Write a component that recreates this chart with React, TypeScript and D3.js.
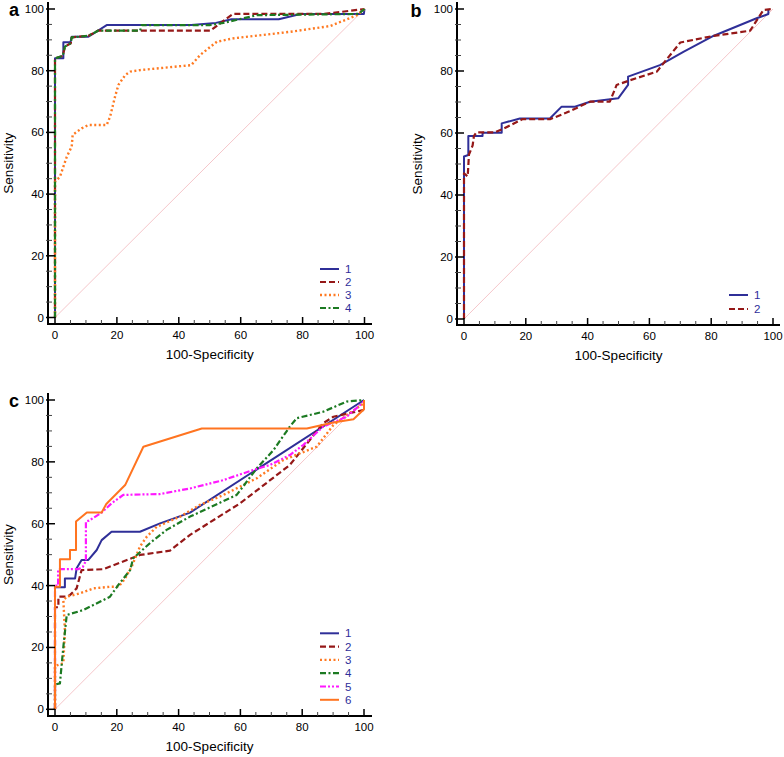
import React from 'react';
import * as d3 from 'd3';

type Pt = [number, number];

const majorTicks = [0, 20, 40, 60, 80, 100];
const minorTicks = [5, 10, 15, 25, 30, 35, 45, 50, 55, 65, 70, 75, 85, 90, 95];

// Panel a
const aLabels = ['1', '2', '3', '4'];
const a1: Pt[] = [[0,0],[0,84],[2.7,84],[2.7,89.2],[5,89.2],[5.4,91],[10.8,91],[16.7,94.8],[44,94.8],[52,95.5],[57,96.7],[72.3,96.7],[79.3,98.4],[99.8,98.4],[100,100]];
const a2: Pt[] = [[0,0],[0,84],[2.5,84.8],[3.2,87.8],[5.1,88.9],[5.4,90.8],[10.8,91.3],[14,93],[50.2,93],[57.5,98.4],[87,98.4],[100,100]];
const a3: Pt[] = [[0,0],[0,44],[1.6,45.6],[3.8,52.1],[5.4,55.4],[5.7,59.2],[8.6,61.3],[10.8,62.4],[16.7,62.4],[17.8,65.1],[19.4,71.6],[20.5,75.4],[22.7,78.6],[24.3,79.7],[27.5,80.2],[44,81.8],[46.9,85.1],[52.3,89.4],[57.7,90.5],[76,92.6],[89,94.5],[97.6,98],[100,100]];
const a4: Pt[] = [[0,0],[0,84],[2.5,84.8],[3.2,87.8],[5.1,88.9],[5.4,90.8],[10.8,91.3],[14,93],[27.5,93],[28,94.8],[50,94.8],[54.4,95.5],[65.3,98],[98,98.4],[100,100]];

// Panel b
const bLabels = ['1', '2'];
const b1: Pt[] = [[0,0],[0,52.4],[1.4,52.9],[1.4,59],[6,59],[6,60.1],[12.2,60.1],[12.2,63.1],[18.1,64.7],[27.8,64.7],[31.6,68.5],[35.9,68.5],[40.8,70.1],[49.9,71.2],[53.1,75.5],[53.1,78.2],[63.4,81.9],[71,86.2],[80.7,91.3],[94.7,97],[98.5,98.4],[98.5,100]];
const b2: Pt[] = [[0,0],[0,47],[1.2,46],[1.6,53],[2.8,56],[3.2,59],[4,60.2],[10,60.2],[13,61.5],[19,64.5],[28,64.5],[33,66.5],[40.8,70.1],[47.2,70.1],[49.4,75.5],[53.7,77],[62.4,79.8],[70,89.2],[80.7,91.3],[92.6,93],[96.9,99.7],[100,100]];

// Panel c
const cLabels = ['1', '2', '3', '4', '5', '6'];
const c1: Pt[] = [[0,0],[0,39.5],[3.2,39.5],[3.2,42.3],[6.5,42.3],[7,45.6],[8.6,48.3],[10.8,48.3],[13.5,51.5],[15.1,54.7],[18.3,57.4],[27.5,57.4],[34,60.1],[43.7,63.6],[100,100]];
const c2: Pt[] = [[0,0],[0,33],[1.1,33],[1.1,36.4],[3.8,36.4],[4.9,37],[7,39.1],[8.6,45],[15.6,45.3],[27.5,49.9],[37.2,51.3],[43.7,56.4],[59.9,66.6],[76,79],[86.8,92.5],[90.1,94.6],[100,96.8]];
const c3: Pt[] = [[0,0],[0,14],[2.7,14.9],[3.2,25.6],[2.7,35.3],[3.8,36.4],[8.1,37.5],[12.4,39.1],[17.8,39.6],[20.5,39.6],[22.5,42],[24.8,46.1],[27.5,52.6],[29.7,55.8],[32.9,59],[40.5,62.3],[46.9,66.1],[54.5,69.3],[65.3,74.7],[73.9,80.6],[84.7,84.9],[90.1,91.9],[94.4,95.1],[100,99]];
const c4: Pt[] = [[0,0],[0,8],[1.6,8.4],[2.7,20.2],[3.8,30.5],[9.2,32.1],[17.8,36.4],[20.5,40.2],[24.3,45],[25.3,48.8],[30.7,53.7],[36.1,58],[43.7,62.3],[58.8,69.3],[65.3,77.9],[70.7,83.8],[76,91.4],[78.2,94.1],[86.8,96.2],[94.4,99.5],[100,100]];
const c5: Pt[] = [[0,0],[0,40],[1,40],[1,45.3],[7.5,45.3],[9,46],[10,48],[10,60.7],[11,61],[15.1,63.6],[18.3,66.6],[22.1,69.3],[34,69.6],[43.7,71.4],[54.5,74.1],[64.2,77.4],[69.6,79],[76,82.2],[80.4,85.5],[86.8,91.4],[94.4,94.6],[100,99.5]];
const c6: Pt[] = [[0,0],[0,39.6],[1.6,39.6],[1.6,48.5],[4.85,48.5],[4.85,51.5],[6.8,51.5],[6.8,60.7],[10.3,63.6],[15.1,63.6],[16.6,66.4],[22.7,72.5],[28.6,84.9],[47.5,90.8],[81.5,90.8],[90.1,92.7],[96.6,93.8],[100,97],[100,100]];

const STYLES: Record<string, { color: string; dash: string; width: number; cap?: string }> = {
  solidBlue: { color: '#2f2f98', dash: '', width: 2 },
  dashRed: { color: '#951818', dash: '6,3', width: 2.2 },
  dotOrange: { color: '#ff7a22', dash: '2,2.5', width: 2.4 },
  dashDotGreen: { color: '#1c7a22', dash: '6,2.5,2,2.5', width: 2.2 },
  dashDotDotMagenta: { color: '#ff18ff', dash: '6,2,2,2,2,2', width: 2.2 },
  solidOrange: { color: '#ff7420', dash: '', width: 2 },
};

const FONT = 'Arial, "Liberation Sans", Helvetica, sans-serif';

interface PanelProps {
  letter: string;
  letterX: number;
  letterY: number;
  x0: number; x1: number; y0: number; y100: number;
  axisX: number; axisY: number; axisTop: number; axisRight: number;
  ylabX: number;
  series: Pt[][];
  styles: string[];
  labels: string[];
  legX: number; legY: number; legStep: number;
}

function Panel(p: PanelProps) {
  const xs = d3.scaleLinear().domain([0, 100]).range([p.x0, p.x1]);
  const ys = d3.scaleLinear().domain([0, 100]).range([p.y0, p.y100]);
  const line = d3.line<Pt>().x(d => xs(d[0])).y(d => ys(d[1]));
  return (
    <g fontFamily={FONT}>
      <text x={p.letterX} y={p.letterY} fontSize={18} fontWeight="bold" textAnchor="middle">{p.letter}</text>
      {/* diagonal */}
      <line x1={xs(0)} y1={ys(0)} x2={xs(100)} y2={ys(100)} stroke="#f2b8bd" strokeWidth={0.8} />
      {p.series.map((s, i) => {
        const st = STYLES[p.styles[i]];
        return (
          <path key={i} d={line(s) || ''} fill="none" stroke={st.color} strokeWidth={st.width}
            strokeDasharray={st.dash || undefined} strokeLinejoin="round" />
        );
      })}
      {/* axes */}
      <line x1={p.axisX} y1={p.axisTop} x2={p.axisX} y2={p.axisY} stroke="#000" strokeWidth={2} />
      <line x1={p.axisX - 1} y1={p.axisY} x2={p.axisRight} y2={p.axisY} stroke="#000" strokeWidth={2} />
      {majorTicks.map(t => (
        <g key={'mx' + t}>
          <line x1={xs(t)} x2={xs(t)} y1={p.axisY} y2={p.axisY - 7} stroke="#000" strokeWidth={1.5} />
          <text x={xs(t)} y={p.axisY + 15} fontSize={11.5} textAnchor="middle">{t}</text>
          <line x1={p.axisX - 2} x2={p.axisX + 7} y1={ys(t)} y2={ys(t)} stroke="#000" strokeWidth={1.5} />
          <text x={p.axisX - 4} y={ys(t) + 4} fontSize={11.5} textAnchor="end">{t}</text>
        </g>
      ))}
      {minorTicks.map(t => (
        <g key={'mn' + t}>
          <line x1={xs(t)} x2={xs(t)} y1={p.axisY} y2={p.axisY - 4} stroke="#444" strokeWidth={1} />
          <line x1={p.axisX - 2} x2={p.axisX + 4} y1={ys(t)} y2={ys(t)} stroke="#444" strokeWidth={1} />
        </g>
      ))}
      <text x={(p.x0 + p.x1) / 2} y={p.axisY + 35} fontSize={13.5} textAnchor="middle">100-Specificity</text>
      <text transform={`translate(${p.ylabX},${ys(50)}) rotate(-90)`} fontSize={13.5} textAnchor="middle" dy="0.35em">Sensitivity</text>
      {p.labels.map((l, i) => {
        const st = STYLES[p.styles[i]];
        const y = p.legY + i * p.legStep;
        return (
          <g key={'lg' + i}>
            <line x1={p.legX} x2={p.legX + 19} y1={y} y2={y} stroke={st.color} strokeWidth={st.width}
              strokeDasharray={st.dash || undefined} />
            <text x={p.legX + 25} y={y + 4} fontSize={11.5} fill="#2e2e9a">{l}</text>
          </g>
        );
      })}
    </g>
  );
}

export default function App() {
  return (
    <svg width={784} height={757} style={{ display: 'block', position: 'absolute', left: 0, top: 0, background: '#fff' }}>
      <rect width={784} height={757} fill="#fff" />
      <Panel letter="a" letterX={14} letterY={16}
        x0={55} x1={364.5} y0={317.5} y100={9}
        axisX={48} axisY={324} axisTop={2} axisRight={372} ylabX={8}
        series={[a1, a2, a3, a4]}
        styles={['solidBlue', 'dashRed', 'dotOrange', 'dashDotGreen']}
        labels={aLabels} legX={320} legY={269} legStep={13} />
      <Panel letter="b" letterX={416} letterY={17}
        x0={464} x1={773} y0={319} y100={9}
        axisX={457} axisY={325} axisTop={2} axisRight={780} ylabX={417}
        series={[b1, b2]}
        styles={['solidBlue', 'dashRed']}
        labels={bLabels} legX={729} legY={295} legStep={14} />
      <Panel letter="c" letterX={14} letterY={407}
        x0={55} x1={364} y0={709.3} y100={400}
        axisX={48} axisY={716} axisTop={393} axisRight={372} ylabX={8}
        series={[c1, c2, c3, c4, c5, c6]}
        styles={['solidBlue', 'dashRed', 'dotOrange', 'dashDotGreen', 'dashDotDotMagenta', 'solidOrange']}
        labels={cLabels} legX={320} legY={633.3} legStep={13.3} />
    </svg>
  );
}
